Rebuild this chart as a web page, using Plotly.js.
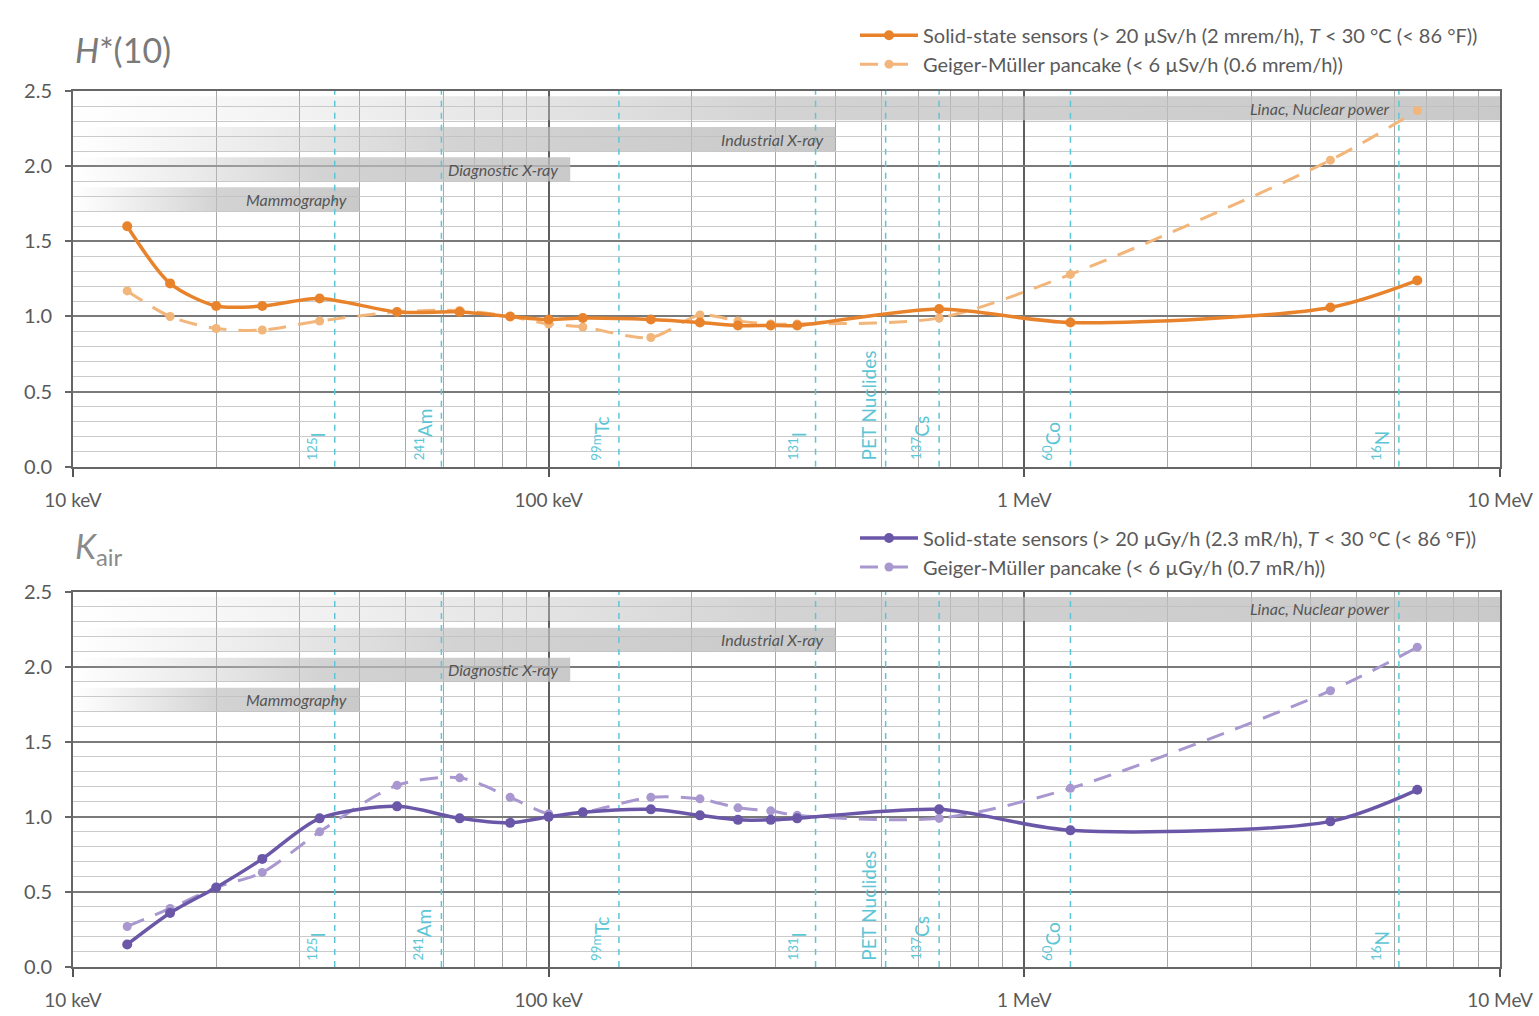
<!DOCTYPE html>
<html>
<head>
<meta charset="utf-8">
<script src="https://cdn.plot.ly/plotly-3.0.1.min.js"></script>
<style>html,body{margin:0;padding:0;background:#fff;}#chart{width:1539px;height:1016px;}</style>
</head>
<body>
<div id="chart"></div>
<script>
// ---- data ----
const energyKeV = [13, 16, 20, 25, 33, 48, 65, 83, 100, 118, 164, 208, 250, 293, 333, 662, 1250, 4400, 6700];
const hSolid = [1.60, 1.22, 1.07, 1.07, 1.12, 1.03, 1.03, 1.00, 0.98, 0.99, 0.98, 0.96, 0.94, 0.94, 0.94, 1.05, 0.96, 1.06, 1.24];
const hGM    = [1.17, 1.00, 0.92, 0.91, 0.97, 1.03, 1.04, 1.00, 0.95, 0.93, 0.86, 1.01, 0.97, 0.95, 0.95, 0.99, 1.28, 2.04, 2.37];
const kSolid = [0.15, 0.36, 0.53, 0.72, 0.99, 1.07, 0.99, 0.96, 1.00, 1.03, 1.05, 1.01, 0.98, 0.98, 0.99, 1.05, 0.91, 0.97, 1.18];
const kGM    = [0.27, 0.39, 0.53, 0.63, 0.90, 1.21, 1.26, 1.13, 1.02, 1.03, 1.13, 1.12, 1.06, 1.04, 1.01, 0.99, 1.19, 1.84, 2.13];

const nuclideNames = ["<sup>125</sup>I", "<sup>241</sup>Am", "<sup>99m</sup>Tc", "<sup>131</sup>I", "PET Nuclides", "<sup>137</sup>Cs", "<sup>60</sup>Co", "<sup>16</sup>N"];
const nuclideKeV = [35.5, 59.5, 140.5, 364, 511, 662, 1250, 6130];

const bandNames = ["Mammography", "Diagnostic X-ray", "Industrial X-ray", "Linac, Nuclear power"];
const bandEndKeV = [40, 111, 400, 10000];
const bandLow  = [1.70, 1.90, 2.10, 2.305];
const bandHigh = [1.86, 2.06, 2.26, 2.465];

const xTickVals = [10, 100, 1000, 10000];
const xTickText = ["10 keV", "100 keV", "1 MeV", "10 MeV"];

const legendTop = [
  "Solid-state sensors (&gt; 20 µSv/h (2 mrem/h), <i>T</i> &lt; 30 °C (&lt; 86 °F))",
  "Geiger-Müller pancake (&lt; 6 µSv/h (0.6 mrem/h))"
];
const legendBottom = [
  "Solid-state sensors (&gt; 20 µGy/h (2.3 mR/h), <i>T</i> &lt; 30 °C (&lt; 86 °F))",
  "Geiger-Müller pancake (&lt; 6 µGy/h (0.7 mR/h))"
];

// ---- styles ----
const FONT = "Lato, 'Open Sans', sans-serif";
const TXT = "#5a5a5a";
const ORANGE = "#e8832c", ORANGE_L = "#f2b57a";
const PURPLE = "#6b57a8", PURPLE_L = "#a898cf";
const CYAN = "#5cc6d6";

const minorX = [];
[10, 100, 1000].forEach(d => { for (let k = 2; k <= 9; k++) minorX.push(k * d); });

const traces = [];
const subplots = [{xa: "x", ya: "y"}, {xa: "x2", ya: "y2"}];

subplots.forEach(sp => {
  // bands
  bandNames.forEach((nm, i) => {
    traces.push({
      type: "scatter", mode: "lines", xaxis: sp.xa, yaxis: sp.ya,
      x: [10, bandEndKeV[i], bandEndKeV[i], 10, 10],
      y: [bandLow[i], bandLow[i], bandHigh[i], bandHigh[i], bandLow[i]],
      fill: "toself", line: {width: 0}, showlegend: false, hoverinfo: "skip",
      fillcolor: "rgba(190,190,190,0.7)",
      fillgradient: {type: "horizontal", colorscale: [[0, "rgba(200,200,200,0)"], [0.5, "rgba(192,192,192,0.7)"], [1, "rgba(188,188,188,0.8)"]]}
    });
  });
  // nuclide lines
  const lx = [], ly = [];
  nuclideKeV.forEach(e => { lx.push(e, e, null); ly.push(0, 2.5, null); });
  traces.push({type: "scatter", mode: "lines", xaxis: sp.xa, yaxis: sp.ya, x: lx, y: ly,
    line: {color: CYAN, width: 1.5, dash: "6px,6px"}, showlegend: false, hoverinfo: "skip"});
});

// data series
traces.push({type: "scatter", mode: "lines+markers", x: energyKeV, y: hGM, xaxis: "x", yaxis: "y",
  name: legendTop[1], legend: "legend", legendrank: 2,
  line: {color: ORANGE_L, width: 3, dash: "18px,12px", shape: "spline", smoothing: 0.8},
  marker: {color: ORANGE_L, size: 9}});
traces.push({type: "scatter", mode: "lines+markers", x: energyKeV, y: hSolid, xaxis: "x", yaxis: "y",
  name: legendTop[0], legend: "legend", legendrank: 1,
  line: {color: ORANGE, width: 3.5, shape: "spline", smoothing: 0.8},
  marker: {color: ORANGE, size: 10}});
traces.push({type: "scatter", mode: "lines+markers", x: energyKeV, y: kGM, xaxis: "x2", yaxis: "y2",
  name: legendBottom[1], legend: "legend2", legendrank: 2,
  line: {color: PURPLE_L, width: 3, dash: "18px,12px", shape: "spline", smoothing: 0.8},
  marker: {color: PURPLE_L, size: 9}});
traces.push({type: "scatter", mode: "lines+markers", x: energyKeV, y: kSolid, xaxis: "x2", yaxis: "y2",
  name: legendBottom[0], legend: "legend2", legendrank: 1,
  line: {color: PURPLE, width: 3.5, shape: "spline", smoothing: 0.8},
  marker: {color: PURPLE, size: 10}});

function xAxis(anchor) {
  return {
    type: "log", range: [1, 4], anchor: anchor,
    tickmode: "array", tickvals: xTickVals, ticktext: xTickText,
    ticks: "outside", ticklen: 8, tickwidth: 2, tickcolor: "#555",
    ticklabelstandoff: 7,
    tickfont: {family: FONT, size: 19, color: TXT},
    showgrid: true, gridcolor: "#5e5e5e", gridwidth: 2,
    minor: {tickmode: "array", tickvals: minorX, showgrid: true, gridcolor: "#a8a8a8", gridwidth: 1, ticks: ""},
    showline: true, linecolor: "#666", linewidth: 2, mirror: true,
    zeroline: false, fixedrange: true
  };
}
function yAxis(anchor, domain) {
  return {
    range: [0, 2.5], domain: domain, anchor: anchor,
    dtick: 0.5, tick0: 0, tickformat: ".1f",
    ticks: "outside", ticklen: 6, tickwidth: 2, tickcolor: "#666",
    ticklabelstandoff: 9,
    tickfont: {family: FONT, size: 20, color: TXT},
    showgrid: true, gridcolor: "#7a7a7a", gridwidth: 2,
    minor: {dtick: 0.1, showgrid: true, gridcolor: "#cacaca", gridwidth: 1, ticks: ""},
    showline: true, linecolor: "#666", linewidth: 2, mirror: true,
    zeroline: false, fixedrange: true
  };
}

const annotations = [];
// panel titles
annotations.push({xref: "paper", yref: "paper", x: 0.0, y: 1.047, xanchor: "left", yanchor: "middle",
  text: "<i>H</i>*(10)", showarrow: false, font: {family: FONT, size: 34, color: "#7a7a7a"}});
annotations.push({xref: "paper", yref: "paper", x: 0.0, y: 0.478, xanchor: "left", yanchor: "middle",
  text: "<i>K</i><sub>air</sub>", showarrow: false, font: {family: FONT, size: 34, color: "#8a8a8a"}});

subplots.forEach(sp => {
  nuclideNames.forEach((nm, i) => {
    annotations.push({xref: sp.xa, yref: sp.ya, x: Math.log10(nuclideKeV[i]), y: 0.03,
      xanchor: "right", yanchor: "bottom", xshift: -4, textangle: -90,
      text: nm, showarrow: false, font: {family: FONT, size: 19, color: CYAN}});
  });
  bandNames.forEach((nm, i) => {
    annotations.push({xref: sp.xa, yref: sp.ya, x: Math.log10(bandEndKeV[i]), y: (bandLow[i] + bandHigh[i]) / 2,
      xanchor: "right", yanchor: "middle", xshift: i === 3 ? -108 : -10,
      text: nm, showarrow: false, font: {family: FONT, size: 16, color: "#555", style: "italic"}});
  });
});

const legendFont = {family: FONT, size: 20, color: TXT};
const layout = {
  width: 1539, height: 1016,
  margin: {l: 73, r: 39, t: 91, b: 49},
  paper_bgcolor: "#ffffff", plot_bgcolor: "#ffffff",
  font: {family: FONT, color: TXT},
  xaxis: xAxis("y"),
  yaxis: yAxis("x", [0.571, 1]),
  xaxis2: xAxis("y2"),
  yaxis2: yAxis("x2", [0, 0.4285]),
  legend: {x: 0.548, y: 1.086, xanchor: "left", yanchor: "top", bgcolor: "rgba(0,0,0,0)",
    font: legendFont, traceorder: "normal", itemwidth: 58, tracegroupgap: 0},
  legend2: {x: 0.548, y: 0.512, xanchor: "left", yanchor: "top", bgcolor: "rgba(0,0,0,0)",
    font: legendFont, traceorder: "normal", itemwidth: 58, tracegroupgap: 0},
  annotations: annotations,
  showlegend: true
};

Plotly.newPlot("chart", traces, layout, {staticPlot: true, displayModeBar: false});
</script>
</body>
</html>
